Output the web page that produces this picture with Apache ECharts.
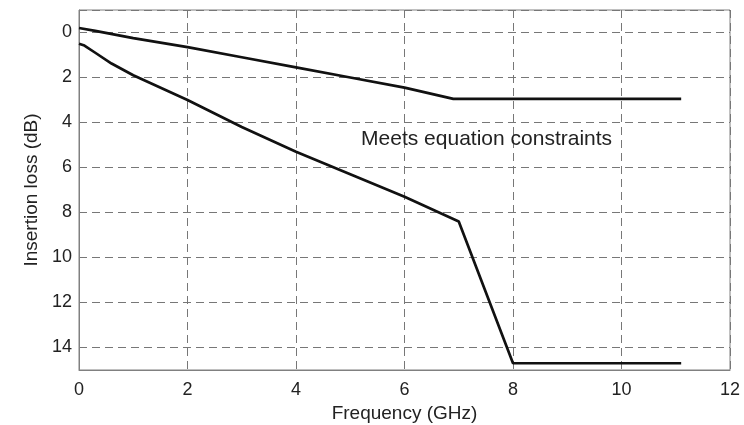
<!DOCTYPE html>
<html>
<head>
<meta charset="utf-8">
<script src="https://cdn.jsdelivr.net/npm/echarts@6/dist/echarts.min.js"></script>
<style>
  html, body { margin: 0; padding: 0; background: #fff; }
  #chart { width: 744px; height: 425px; }
</style>
</head>
<body>
<div id="chart"></div>
<script>
// upper curve (limit that the design must stay under)
var upperFreq = [0, 0.3, 1, 2, 3, 4, 5, 6, 6.9, 11.1];
var upperLoss = [-0.2, -0.07, 0.25, 0.65, 1.1, 1.55, 2.0, 2.45, 2.95, 2.95];

// lower curve
var lowerFreq = [0, 0.1, 0.3, 0.6, 1, 2, 3, 4, 5, 6, 7, 8, 11.1];
var lowerLoss = [0.5, 0.58, 0.9, 1.38, 1.9, 3.0, 4.2, 5.3, 6.3, 7.3, 8.4, 14.7, 14.7];

var noteText = "Meets equation constraints";
var notePos = [5.2, 4.75];

function pairs(xs, ys) {
  var out = [];
  for (var i = 0; i < xs.length; i++) out.push([xs[i], ys[i]]);
  return out;
}

var gridLine = { show: true, lineStyle: { color: "#777", type: [8, 5], width: 1 } };
var font = "Liberation Sans, Arial, sans-serif";

var chart = echarts.init(document.getElementById("chart"));
chart.setOption({
  animation: false,
  backgroundColor: "#fff",
  grid: {
    left: 79, right: 14, top: 10, bottom: 55,
    containLabel: false, outerBoundsMode: "none",
    show: true, borderColor: "#808080", borderWidth: 1
  },
  xAxis: {
    type: "value",
    min: 0,
    max: 12,
    interval: 2,
    name: "Frequency (GHz)",
    nameLocation: "center",
    nameGap: 33,
    nameTextStyle: { fontSize: 19, color: "#222", fontFamily: font },
    axisLine: { show: true, onZero: false, lineStyle: { color: "#808080" } },
    axisTick: { show: false },
    axisLabel: { fontSize: 18, color: "#222", fontFamily: font, margin: 11 },
    splitLine: gridLine
  },
  yAxis: {
    type: "value",
    inverse: true,
    min: -1,
    max: 15,
    splitNumber: 8,
    name: "Insertion loss (dB)",
    nameLocation: "center",
    nameGap: 36,
    nameTextStyle: { fontSize: 19, color: "#222", fontFamily: font },
    axisLine: { show: true, lineStyle: { color: "#808080" } },
    axisTick: { show: false },
    axisLabel: {
      fontSize: 18, color: "#222", fontFamily: font, margin: 7,
      formatter: function (v) { return (v === -1 || v === 15) ? "" : String(v); }
    },
    splitLine: gridLine
  },
  series: [
    {
      type: "line",
      data: pairs(upperFreq, upperLoss),
      symbol: "none",
      lineStyle: { color: "#111", width: 2.7 },
      markPoint: {
        symbol: "circle",
        symbolSize: 0,
        data: [{ coord: notePos }],
        label: {
          show: true,
          position: "right",
          distance: 0,
          formatter: noteText,
          fontSize: 21,
          color: "#222",
          fontFamily: font
        }
      }
    },
    {
      type: "line",
      data: pairs(lowerFreq, lowerLoss),
      symbol: "none",
      lineStyle: { color: "#111", width: 2.7 }
    }
  ]
});
</script>
</body>
</html>
